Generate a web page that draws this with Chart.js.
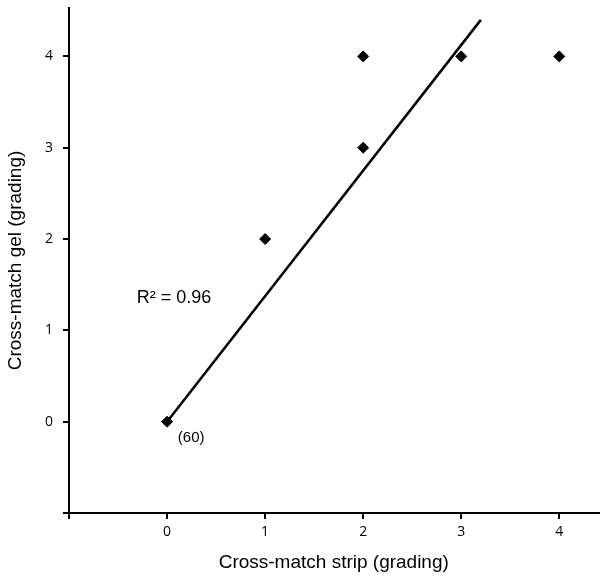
<!DOCTYPE html>
<html>
<head>
<meta charset="utf-8">
<script src="https://cdn.jsdelivr.net/npm/chart.js@4/dist/chart.umd.min.js"></script>
<style>
  html, body { margin: 0; padding: 0; background: #fff; overflow: hidden; }
  canvas { display: block; }
</style>
</head>
<body>
<canvas id="chart" width="605" height="578"></canvas>
<script>
// strip grading vs gel grading
const stripGrades = [0, 1, 2, 2, 3, 4];
const gelGrades = [0, 2, 3, 4, 4, 4];

// fitted line
const fitX = [0, 3.2];
const fitY = [0, 4.4];

const xTicks = [-1, 0, 1, 2, 3, 4];
const yTicks = [-1, 0, 1, 2, 3, 4];

const r2Label = 'R² = 0.96';
const countLabel = '(60)';

const points = stripGrades.map((x, i) => ({ x: x, y: gelGrades[i] }));
const fitLine = fitX.map((x, i) => ({ x: x, y: fitY[i] }));

// text notes placed at data positions
const notesPlugin = {
    id: 'notes',
    afterDatasetsDraw(chart) {
        const { ctx, scales } = chart;
        ctx.save();
        ctx.fillStyle = '#000';
        ctx.textBaseline = 'middle';
        ctx.textAlign = 'left';
        ctx.font = '18px "Liberation Sans", Arial, sans-serif';
        ctx.fillText(r2Label, scales.x.getPixelForValue(-0.31), scales.y.getPixelForValue(1.35));
        ctx.font = '15px "Liberation Sans", Arial, sans-serif';
        ctx.fillText(countLabel, scales.x.getPixelForValue(0.11), scales.y.getPixelForValue(-0.18));
        ctx.restore();
    }
};

const tickFont = { family: '"Open Sans", sans-serif', size: 14 };
const titleFont = { family: '"Liberation Sans", Arial, sans-serif', size: 19 };

new Chart(document.getElementById('chart'), {
    type: 'scatter',
    data: {
        datasets: [
            {
                type: 'line',
                data: fitLine,
                borderColor: '#000',
                borderWidth: 2.5,
                pointRadius: 0,
                fill: false
            },
            {
                data: points,
                pointStyle: 'rectRot',
                pointRadius: 5.5,
                backgroundColor: '#000',
                borderColor: '#000'
            }
        ]
    },
    plugins: [notesPlugin],
    options: {
        responsive: false,
        animation: false,
        layout: { padding: { top: 8, right: 0, left: 0, bottom: 0 } },
        plugins: { legend: { display: false }, tooltip: { enabled: false } },
        scales: {
            x: {
                type: 'linear',
                min: -1,
                max: 4.4,
                afterBuildTicks: (scale) => { scale.ticks = xTicks.map(v => ({ value: v })); },
                afterFit: (scale) => { scale.height = 65; scale.paddingLeft = 0; scale.paddingRight = 0; },
                grid: { drawOnChartArea: false, tickLength: 6, color: '#000', lineWidth: 2 },
                border: { color: '#000', width: 2 },
                ticks: {
                    color: '#000',
                    font: tickFont,
                    padding: 5,
                    callback: (v) => v < 0 ? '' : v
                },
                title: { display: true, text: 'Cross-match strip (grading)', color: '#000', font: titleFont, padding: { top: 4 } }
            },
            y: {
                type: 'linear',
                min: -1,
                max: 4.53,
                afterBuildTicks: (scale) => { scale.ticks = yTicks.map(v => ({ value: v })); },
                afterFit: (scale) => { scale.width = 69; scale.paddingTop = 0; scale.paddingBottom = 0; },
                grid: { drawOnChartArea: false, tickLength: 6, color: '#000', lineWidth: 2 },
                border: { color: '#000', width: 2 },
                ticks: {
                    color: '#000',
                    font: tickFont,
                    padding: 10,
                    callback: (v) => v < 0 ? '' : v
                },
                title: { display: true, text: 'Cross-match gel (grading)', color: '#000', font: titleFont, padding: { bottom: 6 } }
            }
        }
    }
});
</script>
</body>
</html>
